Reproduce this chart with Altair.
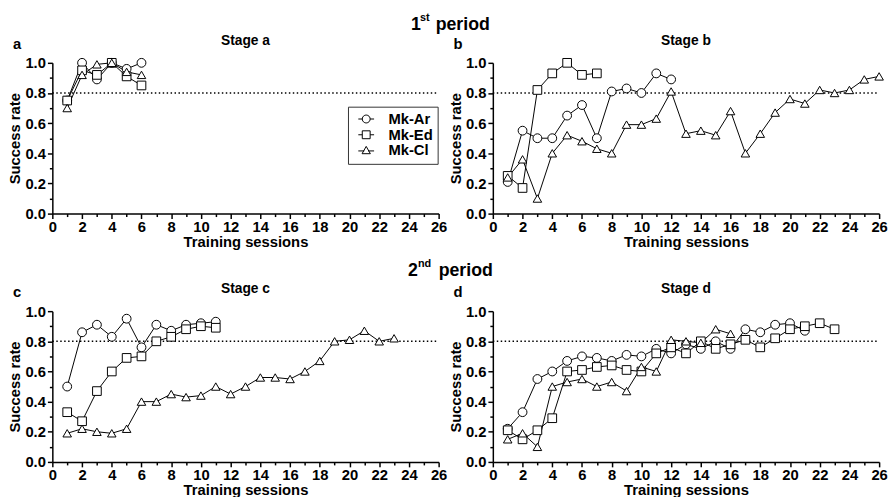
import math
import altair as alt
import pandas as pd

FONT = "Liberation Sans"
SERIES = ["Mk-Ar", "Mk-Ed", "Mk-Cl"]

# ---- data (success rate per training session) ----
a_ar = [0.75, 1.00, 0.89, 1.00, 0.96, 1.00]
a_ed = [0.75, 0.95, 0.92, 1.00, 0.91, 0.85]
a_cl = [0.70, 0.92, 0.99, 1.00, 0.94, 0.92]

b_ar = [0.21, 0.55, 0.50, 0.50, 0.65, 0.72, 0.50, 0.81, 0.83, 0.80, 0.93, 0.89]
b_ed = [0.25, 0.17, 0.82, 0.93, 1.00, 0.92, 0.93]
b_cl = [0.24, 0.36, 0.10, 0.40, 0.52, 0.48, 0.43, 0.40, 0.59, 0.59, 0.63, 0.81, 0.53,
        0.55, 0.52, 0.68, 0.40, 0.53, 0.67, 0.76, 0.73, 0.82, 0.80, 0.82, 0.89, 0.91]

c_ar = [0.50, 0.86, 0.91, 0.83, 0.95, 0.76, 0.91, 0.87, 0.91, 0.92, 0.93]
c_ed = [0.33, 0.27, 0.47, 0.60, 0.69, 0.70, 0.80, 0.83, 0.88, 0.90, 0.89]
c_cl = [0.19, 0.22, 0.20, 0.19, 0.22, 0.40, 0.40, 0.45, 0.43, 0.44, 0.50, 0.45, 0.50,
        0.56, 0.56, 0.55, 0.60, 0.67, 0.80, 0.81, 0.87, 0.80, 0.82]

d_ar = [0.22, 0.33, 0.55, 0.60, 0.67, 0.70, 0.69, 0.67, 0.71, 0.70, 0.75, 0.72, 0.78,
        0.75, 0.80, 0.75, 0.88, 0.86, 0.91, 0.92, 0.87]
d_ed = [0.21, 0.15, 0.21, 0.29, 0.60, 0.61, 0.63, 0.64, 0.61, 0.60, 0.72, 0.76, 0.72,
        0.80, 0.75, 0.78, 0.81, 0.76, 0.82, 0.88, 0.90, 0.92, 0.88]
d_cl = [0.15, 0.19, 0.10, 0.50, 0.53, 0.55, 0.50, 0.53, 0.47, 0.63, 0.60, 0.81, 0.80,
        0.79, 0.88, 0.85]

threshold = [0.8]
x_major = list(range(0, 27, 2))
x_minor = list(range(1, 27, 2))
y_major = [0.0, 0.2, 0.4, 0.6, 0.8, 1.0]
y_minor = [0.1, 0.3, 0.5, 0.7, 0.9]

STAGES = {
    "a": [a_ar, a_ed, a_cl],
    "b": [b_ar, b_ed, b_cl],
    "c": [c_ar, c_ed, c_cl],
    "d": [d_ar, d_ed, d_cl],
}

W, H = 392, 153

# legend glyphs: marker with a short line through it (polygon circle, no arcs)
_circ = "M" + "L".join(
    "%.3f,%.3f" % (math.cos(2 * math.pi * k / 24), math.sin(2 * math.pi * k / 24)) for k in range(24)
) + "Z"
LEG_PATHS = [
    _circ + " M-2,0L-1,0 M1,0L2,0",
    "M-1,-1L1,-1L1,1L-1,1Z M-2,0L-1,0 M1,0L2,0",
    "M0,-1.05L1.05,0.8L-1.05,0.8Z M-2,0.1L-0.5,0.1 M0.5,0.1L2,0.1",
]


def stage_df(key):
    rows = []
    for name, vals in zip(SERIES, STAGES[key]):
        for i, v in enumerate(vals):
            rows.append({"series": name, "session": i + 1, "rate": v})
    return pd.DataFrame(rows)


XS = alt.Scale(domain=[0, 26], nice=False, zero=False)
YS = alt.Scale(domain=[0, 1], nice=False)


def panel(key, show_legend):
    df = stage_df(key)
    xenc = alt.X(
        "session:Q",
        scale=XS,
        axis=alt.Axis(
            values=x_major,
            tickSize=5,
            title="Training sessions",
            labelOverlap=False,
            labelFlush=False,
            labelPadding=1,
            titlePadding=0,
            orient="bottom",
        ),
    )
    yenc = alt.Y(
        "rate:Q",
        scale=YS,
        axis=alt.Axis(
            values=y_major,
            format=".1f",
            tickSize=5,
            title="Success rate",
            labelOverlap=False,
            labelFlush=False,
            labelPadding=2,
            titlePadding=2,
            orient="left",
        ),
    )
    base = alt.Chart(df)
    thr = alt.Chart(pd.DataFrame({"x0": [0], "x1": [26], "t": threshold})).mark_rule(
        color="black", strokeWidth=1.5, strokeDash=[1.5, 2.5]
    ).encode(
        x=alt.X("x0:Q", axis=alt.Axis(values=x_minor, labels=False, domain=False, tickSize=3,
                                      title=None, orient="bottom", grid=False)),
        x2="x1:Q",
        y=alt.Y("t:Q", axis=alt.Axis(values=y_minor, labels=False, domain=False, tickSize=3,
                                     title=None, orient="left", grid=False)),
    )
    lines = base.mark_line(color="black", strokeWidth=1).encode(
        x=xenc, y=yenc, detail="series:N"
    )
    pts = base.mark_point(
        filled=True, fill="white", stroke="black", strokeWidth=1, opacity=1
    ).encode(
        x=alt.X("session:Q", axis=None),
        y=alt.Y("rate:Q", axis=None),
        shape=alt.Shape(
            "series:N",
            scale=alt.Scale(domain=SERIES, range=["circle", "square", "triangle-up"]),
            legend=None,
        ),
        size=alt.Size("series:N", scale=alt.Scale(domain=SERIES, range=[80, 75, 100]), legend=None),
    )
    letter = alt.Chart(pd.DataFrame({"t": [key]})).mark_text(
        font=FONT, fontSize=15, fontWeight="bold", align="left", baseline="alphabetic", color="black"
    ).encode(text="t:N", x=alt.value(-40), y=alt.value(-14))
    stitle = alt.Chart(pd.DataFrame({"t": ["Stage " + key]})).mark_text(
        font=FONT, fontSize=14, fontWeight="bold", align="center", baseline="alphabetic", color="black"
    ).encode(text="t:N", x=alt.value(W / 2), y=alt.value(-18))
    layers = [thr]
    if show_legend:
        # tiny copies of the points (hidden under the real markers) that carry the legend
        leg = base.transform_calculate(lab="datum.series").mark_point(
            filled=False, stroke="black", color="black", size=1, opacity=1,
            strokeWidth=1).encode(
            x=alt.X("session:Q", axis=None),
            y=alt.Y("rate:Q", axis=None),
            shape=alt.Shape(
                "lab:N",
                scale=alt.Scale(domain=SERIES, range=LEG_PATHS),
                legend=alt.Legend(
                    title=None,
                    orient="none",
                    legendX=300,
                    legendY=44.5,
                    strokeColor="#333333",
                    fillColor="white",
                    padding=5,
                    symbolSize=64,
                    symbolStrokeColor="black",
                    symbolFillColor="white",
                    symbolStrokeWidth=1,
                    symbolOpacity=1,
                    symbolOffset=6,
                    labelFont=FONT,
                    labelFontSize=15,
                    labelFontWeight="bold",
                    labelColor="black",
                    labelOffset=15,
                    rowPadding=-2.5,
                ),
            ),
        )
        layers.append(leg)
    layers += [lines, pts, letter, stitle]
    ch = alt.layer(*layers).properties(width=W, height=H)
    ch = ch.resolve_axis(x="independent", y="independent")
    if show_legend:
        ch = ch.resolve_scale(shape="independent")
    return ch


def header(num, sup, h, base_y, sup_y, x_num, x_sup, x_per):
    d1 = pd.DataFrame({"t": [num]})
    d2 = pd.DataFrame({"t": [sup]})
    d3 = pd.DataFrame({"t": ["period"]})
    t1 = alt.Chart(d1).mark_text(font=FONT, fontSize=18, fontWeight="bold", align="left",
                                 baseline="alphabetic", color="black").encode(
        text="t:N", x=alt.value(x_num), y=alt.value(base_y))
    t2 = alt.Chart(d2).mark_text(font=FONT, fontSize=11, fontWeight="bold", align="left",
                                 baseline="alphabetic", color="black").encode(
        text="t:N", x=alt.value(x_sup), y=alt.value(sup_y))
    t3 = alt.Chart(d3).mark_text(font=FONT, fontSize=18, fontWeight="bold", align="left",
                                 baseline="alphabetic", color="black").encode(
        text="t:N", x=alt.value(x_per), y=alt.value(base_y))
    return alt.layer(t1, t2, t3).properties(width=W, height=h)


def blank(h):
    return alt.Chart(pd.DataFrame({"t": [""]})).mark_text().encode(text="t:N").properties(width=W, height=h)


H1, H2 = 50, 99
hdr1 = header("1", "st", H1, 16.5, 7.5, 364, 373, 389)
hdr2 = header("2", "nd", H2, 63, 54, 361, 371, 392)

chart = alt.concat(
    hdr1, blank(H1),
    panel("a", True), panel("b", False),
    hdr2, blank(H2),
    panel("c", False), panel("d", False),
    columns=2,
    spacing=alt.RowColnumber(row=0, column=55),
    bounds="flush",
).properties(
    padding=0
).configure(padding=0).configure_view(stroke=None).configure_axis(
    domainColor="black",
    domainWidth=1.5,
    tickColor="black",
    tickWidth=1.5,
    labelFont=FONT,
    labelFontSize=15,
    labelFontWeight="bold",
    labelColor="black",
    titleFont=FONT,
    titleFontSize=15,
    titleFontWeight="bold",
    titleColor="black",
    grid=False,
)

chart.save("out.html", embed_options={"renderer": "svg", "actions": False})
